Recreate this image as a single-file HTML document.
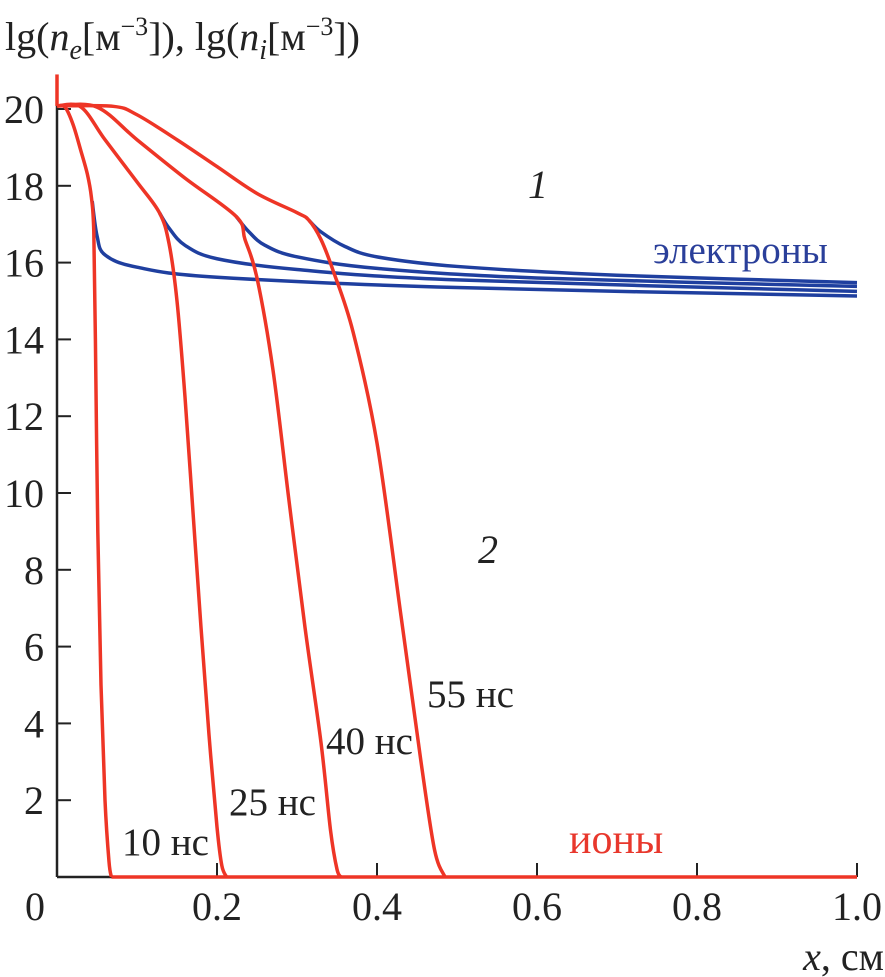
<!DOCTYPE html>
<html><head><meta charset="utf-8"><style>
body{margin:0;background:#fff}
svg{display:block}
text{font-family:"Liberation Serif",serif}
</style></head><body>
<svg id="chart" width="885" height="977">
<text x="5" y="50" font-size="40" fill="#222">lg(<tspan font-style="italic">n</tspan><tspan font-style="italic" font-size="28" dy="9">e</tspan><tspan dy="-9">[м</tspan><tspan font-size="26" dy="-15">−3</tspan><tspan dy="15">]), lg(</tspan><tspan font-style="italic">n</tspan><tspan font-style="italic" font-size="28" dy="9">i</tspan><tspan dy="-9">[м</tspan><tspan font-size="26" dy="-15">−3</tspan><tspan dy="15">])</tspan></text>
<g id="axes"></g>
<g id="series"></g>
<text x="528" y="198" font-size="40" font-style="italic" fill="#222">1</text>
<text x="478" y="563" font-size="40" font-style="italic" fill="#222">2</text>
<text x="653" y="263" font-size="39" fill="#2a3f9a">электроны</text>
<text x="569" y="853" font-size="42" fill="#e8372c">ионы</text>
<text x="122" y="855" font-size="39" fill="#222">10 нс</text>
<text x="229" y="815" font-size="39" fill="#222">25 нс</text>
<text x="326" y="754" font-size="39" fill="#222">40 нс</text>
<text x="427" y="707" font-size="39" fill="#222">55 нс</text>
<text x="884" y="970" font-size="40" fill="#222" text-anchor="end"><tspan font-style="italic">x</tspan>, см</text>
</svg>
<script>
const xTicks=[0,0.2,0.4,0.6,0.8,1.0];
const xTickLabels=["0","0.2","0.4","0.6","0.8","1.0"];
const yTicks=[2,4,6,8,10,12,14,16,18,20];
const ion10=[[0,20.08],[0.01,20.05],[0.02,19.6],[0.03,18.9],[0.038,18.3],[0.043,17.7],[0.046,16.8],[0.048,14],[0.051,9],[0.055,5],[0.06,2],[0.065,0.4],[0.068,0]];
const ion25=[[0,20.08],[0.03,20.05],[0.06,19.2],[0.1,18.1],[0.128,17.3],[0.14,16.5],[0.15,15],[0.16,12.5],[0.17,9.5],[0.18,6.5],[0.19,3.7],[0.2,1.3],[0.206,0.3],[0.212,0]];
const ion40=[[0,20.08],[0.05,20.05],[0.1,19.2],[0.16,18.2],[0.224,17.2],[0.235,16.6],[0.25,15.6],[0.27,13.2],[0.29,9.8],[0.31,6.5],[0.33,3.5],[0.342,1.2],[0.35,0.2],[0.355,0]];
const ion55=[[0,20.08],[0.07,20.07],[0.1,19.85],[0.15,19.2],[0.2,18.5],[0.25,17.8],[0.3,17.3],[0.315,17.1],[0.33,16.6],[0.345,15.8],[0.37,14.2],[0.4,11.3],[0.43,6.8],[0.455,3],[0.472,0.7],[0.485,0]];
const el10=[[0.044,17.6],[0.05,16.7],[0.06,16.2],[0.1,15.88],[0.2,15.62],[0.5,15.35],[1.0,15.13]];
const el25=[[0.128,17.3],[0.14,16.9],[0.16,16.45],[0.2,16.1],[0.3,15.82],[0.5,15.55],[1.0,15.25]];
const el40=[[0.224,17.2],[0.24,16.8],[0.26,16.45],[0.3,16.15],[0.4,15.85],[0.6,15.6],[1.0,15.38]];
const el55=[[0.315,17.1],[0.33,16.8],[0.36,16.42],[0.4,16.15],[0.5,15.9],[0.7,15.67],[1.0,15.48]];
const ionBase=[[0.068,0],[1.0,0]];
const ionWall=[[0,20.9],[0,20.08]];

const X=v=>57+v*800, Y=v=>877-v*38.4;
const NS='http://www.w3.org/2000/svg';
function el(tag,attrs,parent){const e=document.createElementNS(NS,tag);for(const k in attrs)e.setAttribute(k,attrs[k]);parent.appendChild(e);return e;}
function path(pts){
  const p=pts.map(d=>[X(d[0]),Y(d[1])]);
  let s='M'+p[0][0]+','+p[0][1];
  for(let i=0;i<p.length-1;i++){
    const p0=p[i-1]||p[i],p1=p[i],p2=p[i+1],p3=p[i+2]||p2;
    const c1=[p1[0]+(p2[0]-p0[0])/6,p1[1]+(p2[1]-p0[1])/6];
    const c2=[p2[0]-(p3[0]-p1[0])/6,p2[1]-(p3[1]-p1[1])/6];
    s+=' C'+c1+' '+c2+' '+p2;
  }
  return s;
}
const ax=document.getElementById('axes'), sr=document.getElementById('series');
let a=el('line',{x1:X(0),y1:Y(0),x2:X(1),y2:Y(0),stroke:'#222','stroke-width':2.5},ax);


a=el('line',{x1:X(0),y1:Y(0),x2:X(0),y2:Y(20.2),stroke:'#222','stroke-width':2.5},ax);


xTicks.forEach((t,i)=>{
  if(t>0){const l=el('line',{x1:X(t),y1:Y(0),x2:X(t),y2:Y(0)-14,stroke:'#222','stroke-width':2},ax);
  
  }
  const tx=el('text',{x:t===0?35:X(t),y:920,'font-size':40,'text-anchor':'middle',fill:'#222'},ax);
  tx.textContent=xTickLabels[i];
  
  
});
yTicks.forEach(t=>{
  const l=el('line',{x1:X(0),y1:Y(t),x2:X(0)+14,y2:Y(t),stroke:'#222','stroke-width':2},ax);
  
  
  const tx=el('text',{x:44,y:Y(t)+14,'font-size':40,'text-anchor':'end',fill:'#222'},ax);
  tx.textContent=t;
  
  
});
[[el10,'electrons-10ns'],[el25,'electrons-25ns'],[el40,'electrons-40ns'],[el55,'electrons-55ns']].forEach(([d,n])=>{
  const p=el('path',{d:path(d),fill:'none',stroke:'#1f3f9f','stroke-width':3.5},sr);
  
  
});
[[ion10,'ions-10ns'],[ion25,'ions-25ns'],[ion40,'ions-40ns'],[ion55,'ions-55ns'],[ionBase,'ions-baseline'],[ionWall,'ions-wall']].forEach(([d,n])=>{
  const p=el('path',{d:path(d),fill:'none',stroke:'#ee3526','stroke-width':3.5},sr);
  
  
});
</script>
</body></html>
